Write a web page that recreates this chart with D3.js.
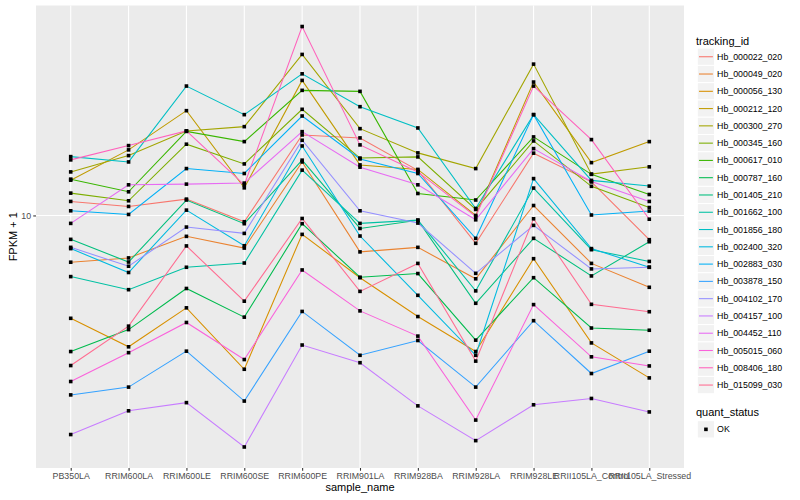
<!DOCTYPE html>
<html>
<head>
<meta charset="utf-8">
<script src="https://cdn.jsdelivr.net/npm/d3@7"></script>
<style>
body { margin: 0; background: #fff; }
text { font-family: "Liberation Sans", Arial, Helvetica, sans-serif; }
</style>
</head>
<body>
<div id="canvas"></div>
<script>
var width = 800,
	height = 500;

var samples = ["PB350LA", "RRIM600LA", "RRIM600LE", "RRIM600SE", "RRIM600PE", "RRIM901LA",
	"RRIM928BA", "RRIM928LA", "RRIM928LE", "RRII105LA_Control", "RRII105LA_Stressed"];

var trackingIds = ["Hb_000022_020", "Hb_000049_020", "Hb_000056_130", "Hb_000212_120", "Hb_000300_270",
	"Hb_000345_160", "Hb_000617_010", "Hb_000787_160", "Hb_001405_210", "Hb_001662_100",
	"Hb_001856_180", "Hb_002400_320", "Hb_002883_030", "Hb_003878_150", "Hb_004102_170",
	"Hb_004157_100", "Hb_004452_110", "Hb_005015_060", "Hb_008406_180", "Hb_015099_030"];

// FPKM + 1, one row per tracking_id, one value per sample
var fpkm = [
	[11.03, 10.65, 11.21, 9.57, 17.56, 17.20, 13.71, 8.23, 15.46, 12.65, 8.44],
	[7.21, 7.43, 8.64, 7.96, 14.54, 7.75, 8.00, 6.42, 10.72, 7.15, 6.05],
	[4.87, 3.99, 5.24, 3.41, 8.76, 6.47, 4.93, 3.86, 7.39, 4.10, 3.21],
	[12.80, 15.82, 20.81, 12.13, 25.72, 14.24, 13.80, 10.00, 25.42, 14.47, 16.76],
	[13.56, 15.20, 18.06, 18.61, 30.84, 18.35, 15.49, 13.88, 28.82, 13.35, 14.05],
	[11.69, 11.08, 16.46, 14.34, 21.01, 14.94, 15.06, 10.43, 16.84, 12.26, 10.57],
	[12.89, 11.80, 18.00, 16.76, 23.99, 23.82, 11.66, 11.14, 17.32, 13.33, 11.58],
	[3.86, 4.50, 6.00, 4.91, 9.44, 6.49, 6.66, 4.18, 6.47, 4.55, 4.48],
	[8.46, 7.22, 11.14, 9.44, 14.72, 9.13, 9.67, 5.41, 8.52, 6.55, 8.32],
	[6.52, 5.95, 6.96, 7.17, 13.73, 9.46, 9.68, 5.90, 12.11, 7.87, 7.25],
	[15.09, 14.54, 24.72, 20.24, 26.93, 21.40, 18.44, 10.50, 20.24, 12.78, 12.28],
	[7.93, 6.71, 10.38, 8.09, 16.26, 8.66, 5.72, 3.76, 12.94, 7.93, 6.96],
	[10.33, 10.07, 13.88, 13.41, 20.05, 14.85, 13.41, 8.52, 20.24, 10.03, 10.31],
	[2.85, 3.01, 3.87, 2.73, 5.11, 3.76, 4.17, 3.01, 4.79, 3.31, 3.87],
	[8.00, 7.01, 9.22, 8.82, 16.92, 10.33, 9.48, 6.67, 9.33, 6.88, 6.96],
	[2.16, 2.55, 2.70, 1.98, 4.04, 3.57, 2.64, 2.07, 2.66, 2.78, 2.53],
	[9.46, 12.39, 12.45, 12.54, 17.97, 14.02, 12.39, 9.70, 15.96, 12.68, 11.03],
	[3.13, 3.83, 4.73, 3.65, 6.83, 5.13, 4.30, 2.39, 5.36, 3.72, 3.49],
	[14.75, 16.30, 18.06, 12.39, 37.49, 16.38, 13.56, 9.93, 24.72, 17.00, 9.74],
	[3.50, 4.61, 8.08, 5.49, 9.79, 5.88, 7.15, 3.61, 9.77, 5.37, 5.10]
];

var yTicks = [10];
var quantStatus = ["OK"];

// ggplot2 default hue palette for 20 levels
var palette = ["#F8766D", "#EA8331", "#D89000", "#C09B00", "#A3A500", "#7CAE00", "#39B600",
	"#00BB4E", "#00BF7D", "#00C1A3", "#00BFC4", "#00BAE0", "#00B0F6", "#35A2FF", "#9590FF",
	"#C77CFF", "#E76BF3", "#FA62DB", "#FF62BC", "#FF6C91"];

var panel = {left: 36, top: 5.5, right: 684, bottom: 468};

var svg = d3.select("#canvas").append("svg")
	.attr("width", width)
	.attr("height", height)
	.style("background-color", "#ffffff");

var x = d3.scalePoint()
	.domain(samples)
	.range([panel.left, panel.right])
	.padding(0.6);

// log scale with 5% expansion in log space, like ggplot
var all = d3.merge(fpkm);
var lo = Math.log10(d3.min(all)), hi = Math.log10(d3.max(all));
var pad = (hi - lo) * 0.05;
var y = d3.scaleLog()
	.domain([Math.pow(10, lo - pad), Math.pow(10, hi + pad)])
	.range([panel.bottom, panel.top]);

var color = d3.scaleOrdinal().domain(trackingIds).range(palette);

// panel background and grid
svg.append("rect")
	.attr("x", panel.left).attr("y", panel.top)
	.attr("width", panel.right - panel.left)
	.attr("height", panel.bottom - panel.top)
	.attr("fill", "#EBEBEB");

svg.selectAll(".vgrid")
	.data(samples)
	.enter().append("line")
	.attr("x1", function(d){ return x(d); })
	.attr("x2", function(d){ return x(d); })
	.attr("y1", panel.top).attr("y2", panel.bottom)
	.attr("stroke", "#fff").attr("stroke-width", 1.07);

svg.selectAll(".hgrid")
	.data(yTicks)
	.enter().append("line")
	.attr("x1", panel.left).attr("x2", panel.right)
	.attr("y1", function(d){ return y(d); })
	.attr("y2", function(d){ return y(d); })
	.attr("stroke", "#fff").attr("stroke-width", 1.07);

// lines
var line = d3.line()
	.x(function(d, i){ return x(samples[i]); })
	.y(function(d){ return y(d); });

svg.selectAll(".series")
	.data(fpkm)
	.enter().append("path")
	.attr("d", line)
	.attr("fill", "none")
	.attr("stroke", function(d, i){ return color(trackingIds[i]); })
	.attr("stroke-width", 1.07);

// points
var pts = [];
fpkm.forEach(function(row){
	row.forEach(function(v, j){ pts.push({s: samples[j], v: v}); });
});
var ps = 3.6;
svg.selectAll(".pt")
	.data(pts)
	.enter().append("rect")
	.attr("x", function(d){ return x(d.s) - ps / 2; })
	.attr("y", function(d){ return y(d.v) - ps / 2; })
	.attr("width", ps).attr("height", ps)
	.attr("fill", "#000");

// axes
var xAxis = svg.append("g")
	.attr("transform", "translate(0," + panel.bottom + ")")
	.call(d3.axisBottom(x).tickSize(2.75).tickPadding(2.2));
var yAxis = svg.append("g")
	.attr("transform", "translate(" + panel.left + ",0)")
	.call(d3.axisLeft(y).tickValues(yTicks).tickFormat(d3.format("d")).tickSize(2.75).tickPadding(2.2));

[xAxis, yAxis].forEach(function(g){
	g.select(".domain").remove();
	g.selectAll(".tick line").attr("stroke", "#333333").attr("stroke-width", 1.07);
	g.selectAll(".tick text")
		.attr("fill", "#4D4D4D")
		.style("font-size", "8.8px")
		.style("font-family", "'Liberation Sans', Arial, sans-serif");
});

svg.append("text")
	.attr("x", (panel.left + panel.right) / 2)
	.attr("y", 491)
	.attr("text-anchor", "middle")
	.style("font-size", "11px")
	.text("sample_name");

svg.append("text")
	.attr("transform", "translate(16.5," + ((panel.top + panel.bottom) / 2) + ") rotate(-90)")
	.attr("text-anchor", "middle")
	.style("font-size", "11px")
	.text("FPKM + 1");

// legend: tracking_id
var keySize = 17.28, keyX = 697.3, keyY = 48.1;
svg.append("text")
	.attr("x", 696).attr("y", 44.5)
	.style("font-size", "11px")
	.text("tracking_id");

var key = svg.selectAll(".key")
	.data(trackingIds)
	.enter().append("g")
	.attr("transform", function(d, i){ return "translate(" + keyX + "," + (keyY + i * keySize) + ")"; });

key.append("rect")
	.attr("width", keySize).attr("height", keySize)
	.attr("fill", "#F2F2F2").attr("stroke", "#fff");
key.append("line")
	.attr("x1", 1.7).attr("x2", keySize - 1.7)
	.attr("y1", keySize / 2).attr("y2", keySize / 2)
	.attr("stroke", function(d){ return color(d); })
	.attr("stroke-width", 1.07);
key.append("text")
	.attr("x", keySize + 2.5).attr("y", keySize / 2)
	.attr("dy", "0.35em")
	.style("font-size", "8.8px")
	.text(function(d){ return d; });

// legend: quant_status
svg.append("text")
	.attr("x", 696).attr("y", 416)
	.style("font-size", "11px")
	.text("quant_status");

var qkey = svg.selectAll(".qkey")
	.data(quantStatus)
	.enter().append("g")
	.attr("transform", function(d, i){ return "translate(" + keyX + "," + (420.7 + i * keySize) + ")"; });
qkey.append("rect")
	.attr("width", keySize).attr("height", keySize)
	.attr("fill", "#F2F2F2").attr("stroke", "#fff");
qkey.append("rect")
	.attr("x", keySize / 2 - ps / 2).attr("y", keySize / 2 - ps / 2)
	.attr("width", ps).attr("height", ps)
	.attr("fill", "#000");
qkey.append("text")
	.attr("x", keySize + 2.5).attr("y", keySize / 2)
	.attr("dy", "0.35em")
	.style("font-size", "8.8px")
	.text(function(d){ return d; });
</script>
</body>
</html>
